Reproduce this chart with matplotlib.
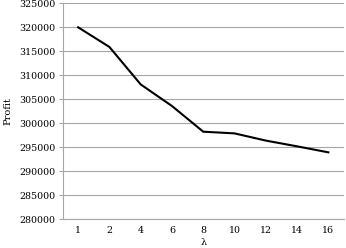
import matplotlib
matplotlib.use("Agg")
import matplotlib.pyplot as plt
import numpy as np

# lambda values (categorical axis) and profit
lambdas = ["1", "2", "4", "6", "8", "10", "12", "14", "16"]
profit = [320000, 315900, 308100, 303600, 298250, 297900, 296400, 295200, 293950]

plt.rcParams["font.family"] = ["DejaVu Serif"]

fig = plt.figure(figsize=(3.46, 2.48), dpi=100)
ax = fig.add_axes([62.5 / 346, 1 - 219.3 / 248, (344 - 62.5) / 346, (219.3 - 3.3) / 248])

x = np.arange(len(lambdas))
ax.plot(x, profit, color="black", lw=1.5, solid_joinstyle="miter")

ax.set_xlim(-0.5, len(lambdas) - 0.5)
ax.set_ylim(280000, 325000)
ax.set_yticks(np.arange(280000, 325001, 5000))
ax.set_xticks(x)
ax.set_xticklabels(lambdas)

ax.grid(axis="y", color="#a6a6a6", lw=0.8)
ax.set_axisbelow(True)
for side in ("top", "right"):
    ax.spines[side].set_visible(False)
for side in ("left", "bottom"):
    ax.spines[side].set_color("#a6a6a6")
    ax.spines[side].set_linewidth(0.8)

ax.tick_params(axis="y", length=3, width=0.8, color="#a6a6a6", labelsize=6.8, pad=2)
ax.tick_params(axis="x", length=0, labelsize=6.8, pad=5)

ax.set_ylabel("Profit", fontsize=7, labelpad=5)
ax.set_xlabel("λ", fontsize=7, labelpad=2)

fig.savefig("out.png", dpi=100)
